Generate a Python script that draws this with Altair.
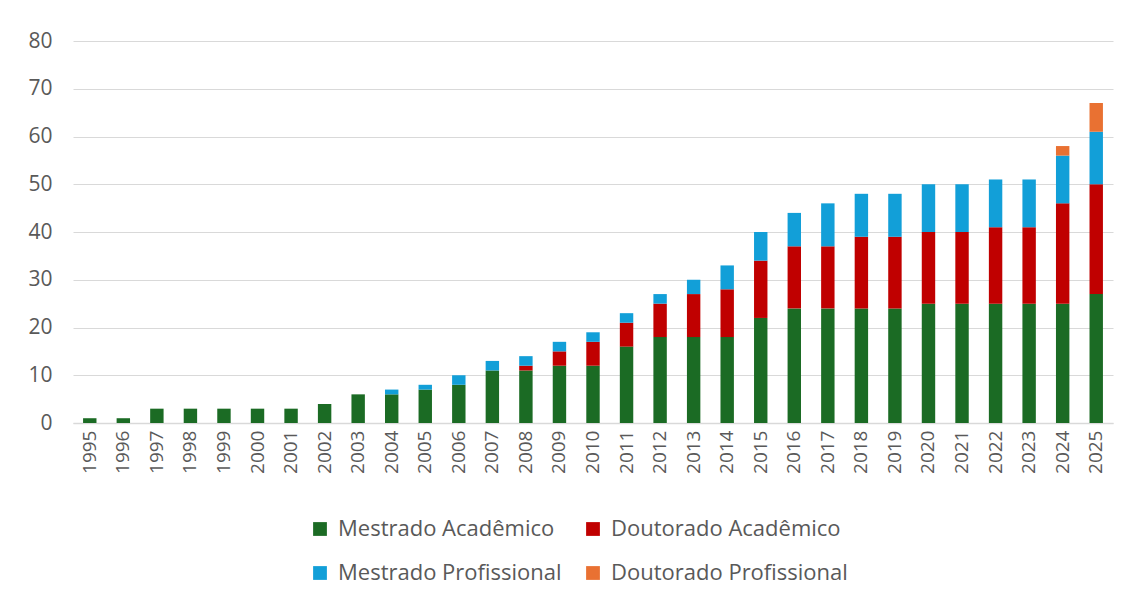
import altair as alt
import pandas as pd

years = [str(y) for y in range(1995, 2026)]
mestrado_academico = [1, 1, 3, 3, 3, 3, 3, 4, 6, 6, 7, 8, 11, 11, 12, 12, 16, 18, 18, 18,
                      22, 24, 24, 24, 24, 25, 25, 25, 25, 25, 27]
doutorado_academico = [0, 0, 0, 0, 0, 0, 0, 0, 0, 0, 0, 0, 0, 1, 3, 5, 5, 7, 9, 10,
                       12, 13, 13, 15, 15, 15, 15, 16, 16, 21, 23]
mestrado_profissional = [0, 0, 0, 0, 0, 0, 0, 0, 0, 1, 1, 2, 2, 2, 2, 2, 2, 2, 3, 5,
                         6, 7, 9, 9, 9, 10, 10, 10, 10, 10, 11]
doutorado_profissional = [0] * 29 + [2, 6]

series = ["Mestrado Acadêmico", "Doutorado Acadêmico", "Mestrado Profissional", "Doutorado Profissional"]
colors = ["#1B6B24", "#C00000", "#129FD8", "#E97132"]
values = [mestrado_academico, doutorado_academico, mestrado_profissional, doutorado_profissional]

rows = []
for si, (name, vals) in enumerate(zip(series, values)):
    for y, v in zip(years, vals):
        rows.append({"ano": y, "serie": name, "valor": v, "ordem": si})
df = pd.DataFrame(rows)

font = "Open Sans"

chart = alt.Chart(df).mark_bar().encode(
    x=alt.X("ano:N", sort=years, title=None,
            scale=alt.Scale(paddingInner=0.6, paddingOuter=0.3),
            axis=alt.Axis(labelAngle=-90, labelFontSize=19, labelColor="#595959", labelFont=font,
                          ticks=False, domainColor="#D9D9D9", domainWidth=1.5, labelPadding=7,
                          labelBaseline="middle", labelAlign="right")),
    y=alt.Y("valor:Q", stack="zero", title=None,
            scale=alt.Scale(domain=[0, 80]),
            axis=alt.Axis(values=list(range(0, 81, 10)), labelFontSize=21, labelColor="#595959",
                          labelFont=font, ticks=False, domain=False, gridColor="#D9D9D9",
                          gridWidth=1.2, labelPadding=21)),
    color=alt.Color("serie:N", sort=series,
                    scale=alt.Scale(domain=series, range=colors),
                    legend=alt.Legend(title=None, orient="none", legendX=236, legendY=477,
                                      columns=2, direction="horizontal", symbolType="square",
                                      symbolSize=190, symbolStrokeWidth=0, labelFontSize=22,
                                      labelFont=font, labelColor="#595959", rowPadding=22,
                                      columnPadding=20, labelOffset=7, labelLimit=400,
                                      symbolOpacity=1)),
    order=alt.Order("ordem:Q", sort="ascending"),
).properties(
    width=1040, height=382,
    padding={"left": 65, "top": 33, "right": 10, "bottom": 170},
    autosize=alt.AutoSizeParams(type="none"),
).configure_view(stroke=None)

chart.save("out.html", embed_options={"renderer": "svg", "actions": False})
